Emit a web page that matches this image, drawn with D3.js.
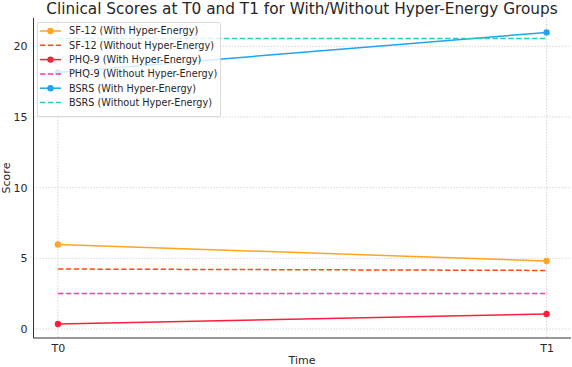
<!DOCTYPE html>
<html><head><meta charset="utf-8">
<script src="https://cdn.jsdelivr.net/npm/d3@7"></script>
<style>body{margin:0;background:#fff}svg{display:block}text{font-family:"DejaVu Sans",sans-serif}</style>
</head><body>
<script>
const timepoints = ["T0", "T1"];
const seriesNames = ["SF-12 (With Hyper-Energy)", "SF-12 (Without Hyper-Energy)", "PHQ-9 (With Hyper-Energy)", "PHQ-9 (Without Hyper-Energy)", "BSRS (With Hyper-Energy)", "BSRS (Without Hyper-Energy)"];
const sf12With = [5.98, 4.81];
const sf12Without = [4.24, 4.14];
const phq9With = [0.35, 1.06];
const phq9Without = [2.5, 2.5];
const bsrsWith = [18.15, 20.98];
const bsrsWithout = [20.55, 20.55];
const yTicks = [0, 5, 10, 15, 20];
const colors = ["#ffa51f", "#ff4a1a", "#ff1f3d", "#ff3aaa", "#1aa5f5", "#27cfb4"];
const dashed = [false, true, false, true, false, true];
const values = [sf12With, sf12Without, phq9With, phq9Without, bsrsWith, bsrsWithout];

const W = 572, H = 367;
const L = 33.5, R = 571, T = 18, B = 338;
const svg = d3.select("body").append("svg").attr("width", W).attr("height", H);
const xs = d3.scaleLinear().domain([-0.05, 1.05]).range([L, R]);
const xp = t => xs(timepoints.indexOf(t));
const y = d3.scaleLinear().domain([-0.64, 22.0]).range([B, T]);

// grid
const g = svg.append("g");
g.selectAll(".hg").data(yTicks).join("line")
  .attr("x1", L).attr("x2", R).attr("y1", d => y(d)).attr("y2", d => y(d))
  .attr("stroke", "#cccccc").attr("stroke-width", 0.8).attr("stroke-dasharray", "1.5,1.5");
g.selectAll(".vg").data(timepoints).join("line")
  .attr("x1", d => xp(d)).attr("x2", d => xp(d)).attr("y1", T).attr("y2", B)
  .attr("stroke", "#cccccc").attr("stroke-width", 0.8).attr("stroke-dasharray", "1.5,1.5");

// axes
const yAxis = d3.axisLeft(y).tickValues(yTicks).tickSize(0).tickPadding(6);
const ya = svg.append("g").attr("transform", `translate(${L},0)`).call(yAxis);
const xAxisScale = d3.scalePoint().domain(timepoints).range([xs(0), xs(1)]);
const xAxis = d3.axisBottom(xAxisScale).tickSize(0).tickPadding(6);
const xa = svg.append("g").attr("transform", `translate(0,${B})`).call(xAxis);
ya.select(".domain").attr("d", `M0,${T}V${B}`).attr("stroke", "#333").attr("stroke-width", 1);
xa.select(".domain").attr("d", `M${L},0H${R}`).attr("stroke", "#333").attr("stroke-width", 1);
[ya, xa].forEach(a => a.selectAll("text").attr("font-size", 11).attr("fill", "#262626").attr("font-family", "DejaVu Sans"));

// lines
const line = d3.line().x((d, i) => xp(timepoints[i])).y(d => y(d));
values.forEach((v, k) => {
  svg.append("path").attr("d", line(v)).attr("fill", "none")
    .attr("stroke", colors[k]).attr("stroke-width", 1.5)
    .attr("stroke-dasharray", dashed[k] ? "5.5,2.4" : null);
  if (!dashed[k]) {
    svg.selectAll(null).data(v).join("circle")
      .attr("cx", (d, i) => xp(timepoints[i])).attr("cy", d => y(d)).attr("r", 3.2)
      .attr("fill", colors[k]);
  }
});

// title & labels
svg.append("text").attr("x", 302).attr("y", 13.5).attr("text-anchor", "middle")
  .attr("font-size", 15.3).attr("fill", "#262626").text("Clinical Scores at T0 and T1 for With/Without Hyper-Energy Groups");
svg.append("text").attr("x", 302).attr("y", 364).attr("text-anchor", "middle")
  .attr("font-size", 11).attr("fill", "#262626").text("Time");
svg.append("text").attr("transform", "translate(10,178) rotate(-90)").attr("text-anchor", "middle")
  .attr("font-size", 11).attr("fill", "#262626").text("Score");

// legend
const lg = svg.append("g");
lg.append("rect").attr("x", 37.5).attr("y", 22.5).attr("width", 183).attr("height", 94)
  .attr("rx", 2).attr("fill", "rgba(255,255,255,0.8)").attr("stroke", "#d0d0d0").attr("stroke-width", 0.8);
seriesNames.forEach((name, k) => {
  const yy = 31 + k * 14.3;
  lg.append("line").attr("x1", 40).attr("x2", 61).attr("y1", yy).attr("y2", yy)
    .attr("stroke", colors[k]).attr("stroke-width", 1.5).attr("stroke-dasharray", dashed[k] ? "5.5,2.4" : null);
  if (!dashed[k]) lg.append("circle").attr("cx", 50.5).attr("cy", yy).attr("r", 3.2).attr("fill", colors[k]);
  lg.append("text").attr("x", 69).attr("y", yy + 3.4).attr("font-size", 9.7).attr("fill", "#262626").text(name);
});
</script>
</body></html>
